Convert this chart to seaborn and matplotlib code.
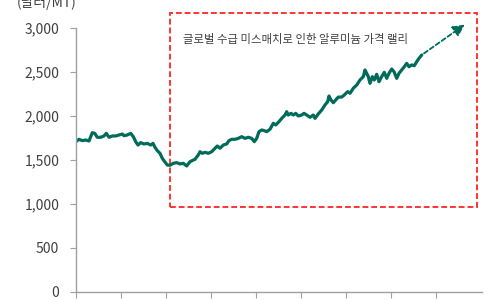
import numpy as np
import pandas as pd
import matplotlib
matplotlib.use('Agg')
import matplotlib.pyplot as plt
from matplotlib.patches import Rectangle
import seaborn as sns

# 경과 일수(눈금 간격 45) 와 알루미늄 가격 (달러/MT)
day = [0, 3, 6.3, 9.7, 13, 16.3, 18.7, 21.3, 24.7, 28, 30.3, 33, 36.3, 39.7, 43, 46.3, 48,
       51.3, 54.7, 57.3, 59.7, 62, 64.7, 68, 71.3, 74.7, 77, 79, 81.3, 84, 86.3, 88.7,
       91.3, 94, 97.3, 100.7, 104, 107.3, 110.7, 114, 119, 122.3, 124, 126.3, 129, 132.3,
       135.7, 139, 141.3, 144, 147.3, 150.7, 153, 155.7, 159, 162.3, 165.7, 169, 172.3,
       175.7, 178.3, 180.7, 183, 185.7, 188.3, 190.7, 194, 197.3, 199.7, 203, 205.7, 209,
       210.7, 212.3, 215, 217.3, 219.7, 222.3, 225.7, 228, 230.7, 234, 237.3, 239, 242.3,
       245.7, 249, 251.7, 253, 255, 257.3, 259.7, 262.3, 265.7, 268.3, 271.7, 274, 277.3,
       280.7, 284, 287.3, 289, 290.7, 292.3, 294, 296.3, 298.3, 300.7, 303, 305.7, 308.3,
       310.7, 313, 315.7, 318, 320.7, 323, 325.7, 328.3, 330.7, 333, 335.7, 338.3, 340.7,
       343, 345.7]
price = [1708, 1735, 1720, 1727, 1716, 1810, 1803, 1758, 1758, 1773, 1803, 1758, 1773, 1773,
         1784, 1795, 1776, 1784, 1803, 1765, 1708, 1670, 1697, 1682, 1689, 1670, 1689, 1644,
         1606, 1576, 1519, 1481, 1443, 1440, 1462, 1470, 1455, 1462, 1432, 1481, 1508, 1557,
         1594, 1576, 1587, 1576, 1594, 1633, 1659, 1633, 1670, 1682, 1720, 1735, 1735, 1746,
         1765, 1746, 1758, 1746, 1708, 1746, 1822, 1841, 1833, 1822, 1849, 1917, 1898, 1936,
         1973, 2011, 2049, 2011, 2030, 2011, 2030, 2000, 2011, 2030, 2011, 1985, 2011, 1973,
         2023, 2068, 2125, 2163, 2227, 2182, 2151, 2182, 2215, 2215, 2239, 2277, 2258, 2315,
         2352, 2409, 2447, 2523, 2485, 2447, 2371, 2447, 2409, 2474, 2390, 2447, 2497, 2428,
         2485, 2534, 2504, 2428, 2485, 2523, 2560, 2598, 2560, 2580, 2572, 2617, 2655, 2693]
yticks = [0, 500, 1000, 1500, 2000, 2500, 3000]
xticks = [0, 45, 90, 135, 180, 225, 270, 315, 360]
unit_label = '(달러/MT)'
note = '글로벌 수급 미스매치로 인한 알루미늄 가격 랠리'
arrow_end = (391, 3057)

df = pd.DataFrame({'day': day, 'price': price})

sns.set_style('white')
plt.rcParams['font.family'] = ['Noto Sans CJK KR', 'DejaVu Sans']

fig = plt.figure(figsize=(5, 3), dpi=100)
ax = fig.add_axes([0.152, 0.0267, 0.812, 0.88])

line_color = '#006b58'
sns.lineplot(data=df, x='day', y='price', ax=ax, color=line_color, linewidth=2.3)

ax.set_xlim(0, 406)
ax.set_ylim(0, 3000)
ax.set_yticks(yticks)
ax.set_yticklabels([f'{v:,}' for v in yticks], fontsize=10, color='#404040')
ax.set_xticks(xticks)
ax.set_xticklabels([])
ax.set_xlabel('')
ax.set_ylabel('')
ax.tick_params(axis='both', bottom=True, left=True, direction='out',
               length=4, width=0.8, color='#a0a0a0')
ax.tick_params(axis='y', pad=8)
sns.despine(ax=ax)
for s in ['left', 'bottom']:
    ax.spines[s].set_color('#a0a0a0')
    ax.spines[s].set_linewidth(1)

# 빨간 점선 박스
rect = Rectangle((94, 966), 401 - 94, 3170 - 966, fill=False,
                 edgecolor='#ff3333', linestyle=(0, (3, 1.5)), linewidth=1.4, clip_on=False)
ax.add_patch(rect)

ax.text(107, 2870, note, fontsize=8.2, color='#404040', va='center', ha='left')

ax.annotate('', xy=arrow_end, xytext=(day[-1], price[-1]),
            arrowprops=dict(arrowstyle='-|>,head_length=0.7,head_width=0.35',
                            color=line_color, linestyle=(0, (2.5, 1.5)), linewidth=1.3),
            annotation_clip=False)

fig.text(47 / 500, 1 - 2 / 300, unit_label, fontsize=10, color='#404040', ha='center', va='center')

fig.savefig('out.png', dpi=100)
